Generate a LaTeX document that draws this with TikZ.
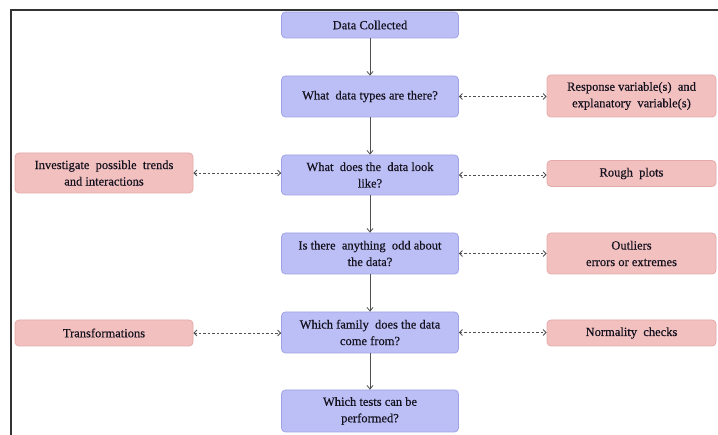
\documentclass[tikz,border=0pt]{standalone}
\usepackage{fontspec}
\setmainfont{Liberation Serif}
\newfontfamily\diagfont[FakeBold=0.4]{Liberation Serif}
\usetikzlibrary{arrows.meta}
\definecolor{bfill}{RGB}{188,190,246}
\definecolor{bdraw}{RGB}{160,164,230}
\definecolor{pfill}{RGB}{243,192,192}
\definecolor{pdraw}{RGB}{228,170,170}
\definecolor{txt}{RGB}{20,18,30}
\definecolor{conn}{RGB}{80,80,80}
\begin{document}
\begin{tikzpicture}[x=1pt,y=-1pt,
  box/.style={rectangle, rounded corners=4pt, line width=0.8pt, align=center,
    inner sep=0pt, text=txt, font=\diagfont\fontsize{12.5}{16.5}\selectfont},
  bluebox/.style={box, fill=bfill, draw=bdraw, minimum width=177pt},
  rbox/.style={box, fill=pfill, draw=pdraw, minimum width=169pt},
  lbox/.style={box, fill=pfill, draw=pdraw, minimum width=178pt},
  flow/.style={draw=conn, line width=0.8pt, -{Straight Barb[length=3.5pt,width=6pt]}},
  side/.style={draw=conn, line width=0.8pt, dash pattern=on 2.5pt off 2pt,
    {Straight Barb[length=3pt,width=6pt]}-{Straight Barb[length=3pt,width=6pt]}}]
\useasboundingbox (0,0) rectangle (718,435);
\fill[white] (0,0) rectangle (718,435);
\draw[line width=1.2pt, black!80] (11,435) -- (11,10) -- (718,10);

\node[bluebox, minimum height=26pt] (dc) at (370,25) {Data Collected};
\node[bluebox, minimum height=41pt] (q1) at (370,96.5) {What\ \ data types are there?};
\node[bluebox, minimum height=40pt] (q2) at (370,175) {What\ \ does the\ \ data look\\like?};
\node[bluebox, minimum height=41pt] (q3) at (370,253.5) {Is there\ \ anything\ \ odd about\\the data?};
\node[bluebox, minimum height=41pt] (q4) at (370,332.5) {Which family\ \ does the data\\come from?};
\node[bluebox, minimum height=42pt] (q5) at (370,411) {Which tests can be\\performed?};

\node[rbox, minimum height=42pt] (r1) at (631.5,96) {Response variable(s)\ \ and\\explanatory\ \ variable(s)};
\node[rbox, minimum height=26pt] (r2) at (631.5,173.5) {Rough\ \ plots};
\node[rbox, minimum height=41pt] (r3) at (631.5,253.5) {Outliers\\errors or extremes};
\node[rbox, minimum height=26pt] (r4) at (631.5,333) {Normality\ \ checks};

\node[lbox, minimum height=40pt] (l2) at (104,173) {Investigate\ \ possible\ \ trends\\and interactions};
\node[lbox, minimum height=26pt] (l4) at (104,333) {Transformations};

\draw[flow] (dc) -- (q1);
\draw[flow] (q1) -- (q2);
\draw[flow] (q2) -- (q3);
\draw[flow] (q3) -- (q4);
\draw[flow] (q4) -- (q5);

\draw[side] (q1.east) -- (r1.west |- q1.east);
\draw[side] (q2.east) -- (r2.west |- q2.east);
\draw[side] (q3.east) -- (r3.west |- q3.east);
\draw[side] (q4.east) -- (r4.west |- q4.east);
\draw[side] (l2.east) -- (q2.west |- l2.east);
\draw[side] (l4.east) -- (q4.west |- l4.east);
\end{tikzpicture}
\end{document}
